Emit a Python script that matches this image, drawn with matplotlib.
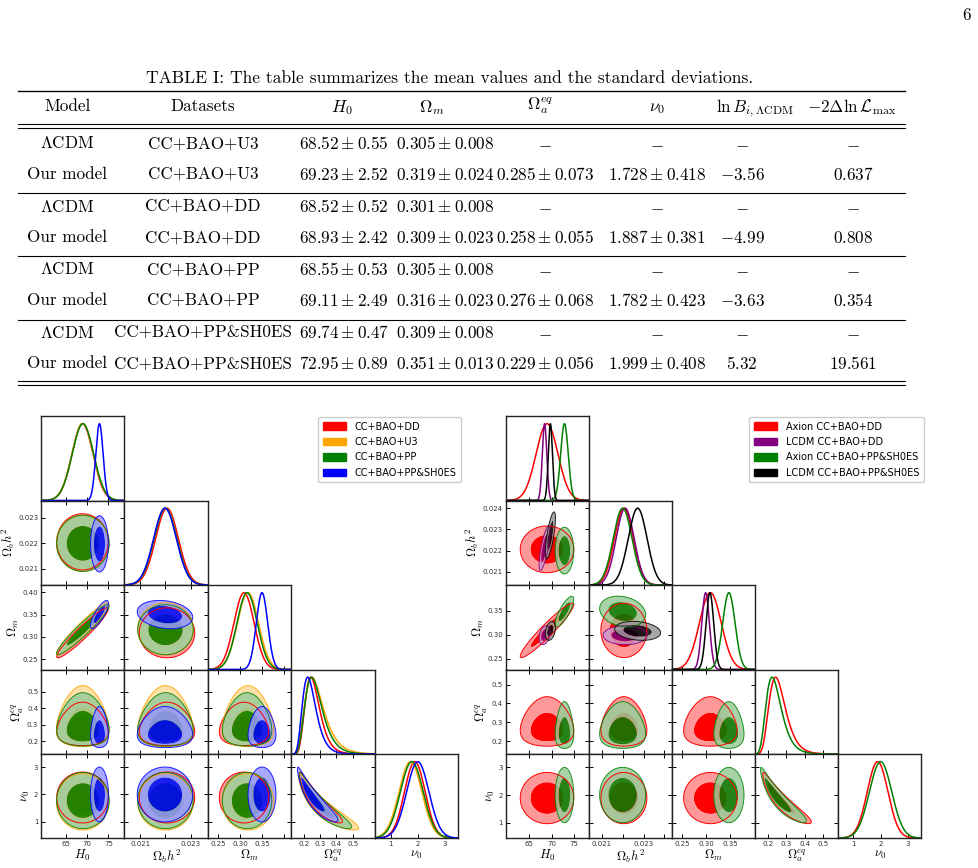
import numpy as np
import matplotlib
matplotlib.use("Agg")
import matplotlib.pyplot as plt
from matplotlib.lines import Line2D
from matplotlib.patches import Patch
from matplotlib.colors import to_rgb

plt.rcParams['mathtext.fontset'] = 'cm'
plt.rcParams['font.family'] = ['DejaVu Sans']

W, H = 979, 868
fig = plt.figure(figsize=(W / 100, H / 100), dpi=100)


def fx(x):
    return x / W


def fy(y):
    return 1 - y / H


# ---------------------------------------------------------------- table data
TABLE_CAPTION = "TABLE I: The table summarizes the mean values and the standard deviations."
ROW_MODELS = ["LCDM", "Our model", "LCDM", "Our model", "LCDM", "Our model", "LCDM", "Our model"]
ROW_DATASETS = ["CC+BAO+U3", "CC+BAO+U3", "CC+BAO+DD", "CC+BAO+DD",
                "CC+BAO+PP", "CC+BAO+PP", "CC+BAO+PP&SH0ES", "CC+BAO+PP&SH0ES"]
TAB_H0_MEAN = [68.52, 69.23, 68.52, 68.93, 68.55, 69.11, 69.74, 72.95]
TAB_H0_STD = [0.55, 2.52, 0.52, 2.42, 0.53, 2.49, 0.47, 0.89]
TAB_OM_MEAN = [0.305, 0.319, 0.301, 0.309, 0.305, 0.316, 0.309, 0.351]
TAB_OM_STD = [0.008, 0.024, 0.008, 0.023, 0.008, 0.023, 0.008, 0.013]
TAB_OA_MEAN = [None, 0.285, None, 0.258, None, 0.276, None, 0.229]
TAB_OA_STD = [None, 0.073, None, 0.055, None, 0.068, None, 0.056]
TAB_NU_MEAN = [None, 1.728, None, 1.887, None, 1.782, None, 1.999]
TAB_NU_STD = [None, 0.418, None, 0.381, None, 0.423, None, 0.408]
TAB_LNB = [None, -3.56, None, -4.99, None, -3.63, None, 5.32]
TAB_CHI2 = [None, 0.637, None, 0.808, None, 0.354, None, 19.561]

# ---------------------------------------------------------------- corner data
PARAM_NAMES = [r'$H_0$', r'$\Omega_b h^2$', r'$\Omega_m$', r'$\Omega_a^{eq}$', r'$\nu_0$']
OMA_SHIFT = 0.1   # Omega_a^eq posteriors are Gaussian in log(Omega_a^eq - shift)

LEFT_LABELS = ['CC+BAO+DD', 'CC+BAO+U3', 'CC+BAO+PP', 'CC+BAO+PP&SH0ES']
LEFT_COLORS = ['red', 'orange', 'green', 'blue']
LEFT_H0 = [68.95, 69.0, 69.05, 72.9]
LEFT_H0_SD = [2.45, 2.5, 2.5, 0.85]
LEFT_OBH2 = [0.02206, 0.02200, 0.02200, 0.02198]
LEFT_OBH2_SD = [0.00045, 0.00045, 0.00045, 0.00045]
LEFT_OM = [0.309, 0.318, 0.316, 0.350]
LEFT_OM_SD = [0.023, 0.024, 0.023, 0.013]
LEFT_LOGOA = [-1.85, -1.76, -1.79, -1.98]
LEFT_LOGOA_SD = [0.31, 0.38, 0.35, 0.33]
LEFT_NU0 = [1.89, 1.73, 1.78, 2.0]
LEFT_NU0_SD = [0.38, 0.42, 0.42, 0.41]
LEFT_R_H0_OB = [0.0, 0.0, 0.0, 0.0]
LEFT_R_H0_OM = [0.95, 0.95, 0.95, 0.8]
LEFT_R_OB_OM = [0.0, 0.0, 0.0, -0.2]
LEFT_R_OA_NU = [-0.93, -0.93, -0.93, -0.93]

RIGHT_LABELS = ['Axion CC+BAO+DD', 'LCDM CC+BAO+DD', 'Axion CC+BAO+PP&SH0ES', 'LCDM CC+BAO+PP&SH0ES']
RIGHT_COLORS = ['red', 'purple', 'green', 'black']
RIGHT_NPAR = [5, 3, 5, 3]
RIGHT_H0 = [68.95, 68.4, 72.85, 69.7]
RIGHT_H0_SD = [2.45, 0.5, 0.85, 0.46]
RIGHT_OBH2 = [0.02206, 0.02212, 0.02200, 0.02272]
RIGHT_OBH2_SD = [0.00045, 0.00043, 0.00045, 0.00045]
RIGHT_OM = [0.309, 0.299, 0.348, 0.308]
RIGHT_OM_SD = [0.023, 0.008, 0.013, 0.008]
RIGHT_LOGOA = [-1.85, 0.0, -1.98, 0.0]
RIGHT_LOGOA_SD = [0.31, 1.0, 0.33, 1.0]
RIGHT_NU0 = [1.89, 0.0, 2.0, 0.0]
RIGHT_NU0_SD = [0.38, 1.0, 0.41, 1.0]
RIGHT_R_H0_OB = [0.0, 0.75, 0.0, 0.72]
RIGHT_R_H0_OM = [0.95, 0.3, 0.8, 0.3]
RIGHT_R_OB_OM = [0.0, 0.0, -0.2, -0.2]
RIGHT_R_OA_NU = [-0.93, 0.0, -0.93, 0.0]

LEFT_RANGES = [(59.3, 78.7), (0.02037, 0.02368), (0.2265, 0.4165), (0.123, 0.633), (0.41, 3.48)]
RIGHT_RANGES = [(59.7, 78.3), (0.02038, 0.02436), (0.228, 0.403), (0.132, 0.58), (0.44, 3.49)]
LEFT_TICKS = [[65, 70, 75], [0.021, 0.022, 0.023], [0.25, 0.30, 0.35, 0.40],
              [0.2, 0.3, 0.4, 0.5], [1, 2, 3]]
LEFT_XTICKLABELS = [['65', '70', '75'], ['0.021', '', '0.023'], ['0.25', '0.30', '0.35', ''],
                    ['0.2', '0.3', '0.4', '0.5'], ['1', '2', '3']]
LEFT_YTICKLABELS = [['65', '70', '75'], ['0.021', '0.022', '0.023'], ['0.25', '0.30', '0.35', '0.40'],
                    ['0.2', '0.3', '0.4', '0.5'], ['1', '2', '3']]
RIGHT_TICKS = [[65, 70, 75], [0.021, 0.022, 0.023, 0.024], [0.25, 0.30, 0.35],
               [0.2, 0.3, 0.4, 0.5], [1, 2, 3]]
RIGHT_XTICKLABELS = [['65', '70', '75'], ['0.021', '', '0.023', ''], ['0.25', '0.30', '0.35'],
                     ['0.2', '0.3', '0.4', '0.5'], ['1', '2', '3']]
RIGHT_YTICKLABELS = [['65', '70', '75'], ['0.021', '0.022', '0.023', '0.024'], ['0.25', '0.30', '0.35'],
                     ['0.2', '0.3', '0.4', '0.5'], ['1', '2', '3']]

# ---------------------------------------------------------------- layout (pixels)
Y_EDGES = [416, 500.5, 585, 669.5, 754, 838]
LEFT_X_EDGES = [41, 124.4, 207.8, 291.2, 374.6, 458]
RIGHT_X_EDGES = [505.7, 588.8, 671.9, 755.0, 838.1, 921.2]

# ================================================================ table
TXT = dict(fontfamily='cmr10', fontsize=12.3)
MTX = dict(fontsize=12.3)

fig.text(fx(967), fy(15), '6', ha='center', va='center', **TXT)
fig.text(fx(450), fy(78), TABLE_CAPTION, ha='center', va='center', fontfamily='cmr10', fontsize=12.6)


def hline(y, x0=18, x1=905, lw=0.8):
    fig.add_artist(Line2D([fx(x0), fx(x1)], [fy(y), fy(y)], transform=fig.transFigure,
                          color='black', lw=lw))


hline(91, lw=1.0)
hline(124)
hline(127.5)
for yy in (192.5, 256, 319.5):
    hline(yy)
hline(381)
hline(385)

HEAD_Y = 105
fig.text(fx(68), fy(HEAD_Y), 'Model', ha='center', va='center_baseline', **TXT)
fig.text(fx(203), fy(HEAD_Y), 'Datasets', ha='center', va='center_baseline', **TXT)
fig.text(fx(342), fy(HEAD_Y), r'$H_0$', ha='center', va='center_baseline', **MTX)
fig.text(fx(432), fy(HEAD_Y), r'$\Omega_m$', ha='center', va='center_baseline', **MTX)
fig.text(fx(540), fy(HEAD_Y - 2), r'$\Omega_a^{eq}$', ha='center', va='center_baseline', **MTX)
fig.text(fx(657), fy(HEAD_Y), r'$\nu_0$', ha='center', va='center_baseline', **MTX)
fig.text(fx(755), fy(HEAD_Y), r'$\ln B_{i,\Lambda\mathrm{CDM}}$', ha='center', va='center_baseline', **MTX)
fig.text(fx(852), fy(HEAD_Y), r'$-2\Delta\ln\mathcal{L}_{\mathrm{max}}$', ha='center',
         va='center_baseline', **MTX)

ROW_Y = [142, 173, 205, 236, 268, 299, 331, 362]
COL_X = dict(model=67, data=203, h0=344, om=445, oa=545, nu=657, lnb=742, chi=853)


def pm(m, s, nd):
    return r'$%.*f \pm %.*f$' % (nd, m, nd, s)


for r in range(8):
    y = fy(ROW_Y[r])
    kw = dict(ha='center', va='center_baseline')
    if ROW_MODELS[r] == 'LCDM':
        fig.text(fx(COL_X['model']), y, r'$\Lambda$CDM', **kw, **TXT)
    else:
        fig.text(fx(COL_X['model']), y, ROW_MODELS[r], **kw, **TXT)
    fig.text(fx(COL_X['data']), y, ROW_DATASETS[r], **kw, **TXT)
    fig.text(fx(COL_X['h0']), y, pm(TAB_H0_MEAN[r], TAB_H0_STD[r], 2), **kw, **MTX)
    fig.text(fx(COL_X['om']), y, pm(TAB_OM_MEAN[r], TAB_OM_STD[r], 3), **kw, **MTX)
    if TAB_OA_MEAN[r] is None:
        for key in ('oa', 'nu', 'lnb', 'chi'):
            fig.text(fx(COL_X[key]), y, r'$-$', **kw, **MTX)
    else:
        fig.text(fx(COL_X['oa']), y, pm(TAB_OA_MEAN[r], TAB_OA_STD[r], 3), **kw, **MTX)
        fig.text(fx(COL_X['nu']), y, pm(TAB_NU_MEAN[r], TAB_NU_STD[r], 3), **kw, **MTX)
        fig.text(fx(COL_X['lnb']), y, r'$%.2f$' % TAB_LNB[r], **kw, **MTX)
        fig.text(fx(COL_X['chi']), y, r'$%.3f$' % TAB_CHI2[r], **kw, **MTX)


# ================================================================ corner plots
def make_series(colors, npars, h0, h0s, ob, obs, om, oms, oa, oas, nu, nus, r01, r02, r12, r34):
    out = []
    for k in range(len(colors)):
        corr = np.eye(5)
        corr[0, 1] = corr[1, 0] = r01[k]
        corr[0, 2] = corr[2, 0] = r02[k]
        corr[1, 2] = corr[2, 1] = r12[k]
        corr[3, 4] = corr[4, 3] = r34[k]
        out.append(dict(color=colors[k], npar=npars[k],
                        mean=np.array([h0[k], ob[k], om[k], oa[k], nu[k]]),
                        sd=np.array([h0s[k], obs[k], oms[k], oas[k], nus[k]]),
                        corr=corr))
    return out


def to_u(k, x):
    if k == 3:
        return np.log(np.clip(x - OMA_SHIFT, 1e-9, None))
    return x


def lighter(c):
    rgb = np.array(to_rgb(c))
    return tuple(rgb * 0.4 + 0.6)


def corner(xe, ranges, ticks, xtl, ytl, series, labels, leg_xy):
    n = 5
    for i in range(n):
        for j in range(i + 1):
            x0, x1 = xe[j], xe[j + 1]
            ax = fig.add_axes([fx(x0), fy(Y_EDGES[i + 1]), (x1 - x0) / W,
                               (Y_EDGES[i + 1] - Y_EDGES[i]) / H])
            for sp in ax.spines.values():
                sp.set_linewidth(1.0)
                sp.set_color('#222222')
            ax.set_xlim(*ranges[j])
            if i == j:
                xs = np.linspace(ranges[j][0], ranges[j][1], 600)
                for s in series:
                    if j >= s['npar']:
                        continue
                    u = to_u(j, xs)
                    p = np.exp(-0.5 * ((u - s['mean'][j]) / s['sd'][j]) ** 2)
                    if j == 3:
                        p = p / np.clip(xs - OMA_SHIFT, 1e-9, None)
                    p = p / p.max()
                    ax.plot(xs, p, color=s['color'], lw=1.1)
                ax.set_ylim(0, 1.1)
                ax.set_yticks([])
                ax.tick_params(axis='x', direction='in', length=3, width=0.7, top=False,
                               labelsize=5, pad=2, labelcolor='#333333')
            else:
                ax.set_ylim(*ranges[i])
                gx = np.linspace(ranges[j][0], ranges[j][1], 300)
                gy = np.linspace(ranges[i][0], ranges[i][1], 300)
                X, Y = np.meshgrid(gx, gy)
                U, V = to_u(j, X), to_u(i, Y)
                for idx, s in enumerate(series):
                    if i >= s['npar'] or j >= s['npar']:
                        continue
                    sx, sy = s['sd'][j], s['sd'][i]
                    rho = s['corr'][i, j]
                    dx = (U - s['mean'][j]) / sx
                    dy = (V - s['mean'][i]) / sy
                    chi2 = (dx ** 2 - 2 * rho * dx * dy + dy ** 2) / (1 - rho ** 2)
                    a = 1.0 if idx == 0 else 0.85
                    ax.contourf(X, Y, chi2, levels=[-1, 2.30, 5.99],
                                colors=[s['color'], lighter(s['color'])], alpha=a,
                                antialiased=True)
                    ax.contour(X, Y, chi2, levels=[5.99], colors=[s['color']],
                               linewidths=0.7, alpha=a)
                ax.set_yticks(ticks[i])
                ax.tick_params(direction='in', length=3, width=0.7, top=True, right=True,
                               labelsize=5, pad=2, labelcolor='#333333')
                if j == 0:
                    ax.set_yticklabels(ytl[i])
                    ax.set_ylabel(PARAM_NAMES[i], fontsize=9, labelpad=1)
                else:
                    ax.set_yticklabels([])
            ax.set_xticks(ticks[j])
            if i == n - 1:
                ax.set_xticklabels(xtl[j])
                ax.set_xlabel(PARAM_NAMES[j], fontsize=9, labelpad=1)
            else:
                ax.set_xticklabels([])
    handles = [Patch(facecolor=s['color'], edgecolor=s['color']) for s in series]
    fig.legend(handles, labels, loc='upper left', bbox_to_anchor=(fx(leg_xy[0]), fy(leg_xy[1])),
               fontsize=7, handlelength=2.4, handleheight=0.8, labelspacing=0.55,
               borderpad=0.5, handletextpad=0.9, borderaxespad=0, framealpha=1,
               edgecolor='#cccccc')


left_series = make_series(LEFT_COLORS, [5, 5, 5, 5], LEFT_H0, LEFT_H0_SD, LEFT_OBH2, LEFT_OBH2_SD,
                          LEFT_OM, LEFT_OM_SD, LEFT_LOGOA, LEFT_LOGOA_SD, LEFT_NU0, LEFT_NU0_SD,
                          LEFT_R_H0_OB, LEFT_R_H0_OM, LEFT_R_OB_OM, LEFT_R_OA_NU)
right_series = make_series(RIGHT_COLORS, RIGHT_NPAR, RIGHT_H0, RIGHT_H0_SD, RIGHT_OBH2, RIGHT_OBH2_SD,
                           RIGHT_OM, RIGHT_OM_SD, RIGHT_LOGOA, RIGHT_LOGOA_SD, RIGHT_NU0, RIGHT_NU0_SD,
                           RIGHT_R_H0_OB, RIGHT_R_H0_OM, RIGHT_R_OB_OM, RIGHT_R_OA_NU)

corner(LEFT_X_EDGES, LEFT_RANGES, LEFT_TICKS, LEFT_XTICKLABELS, LEFT_YTICKLABELS,
       left_series, LEFT_LABELS, (317.7, 416.7))
corner(RIGHT_X_EDGES, RIGHT_RANGES, RIGHT_TICKS, RIGHT_XTICKLABELS, RIGHT_YTICKLABELS,
       right_series, RIGHT_LABELS, (749, 416.7))

fig.savefig('out.png', dpi=100)
